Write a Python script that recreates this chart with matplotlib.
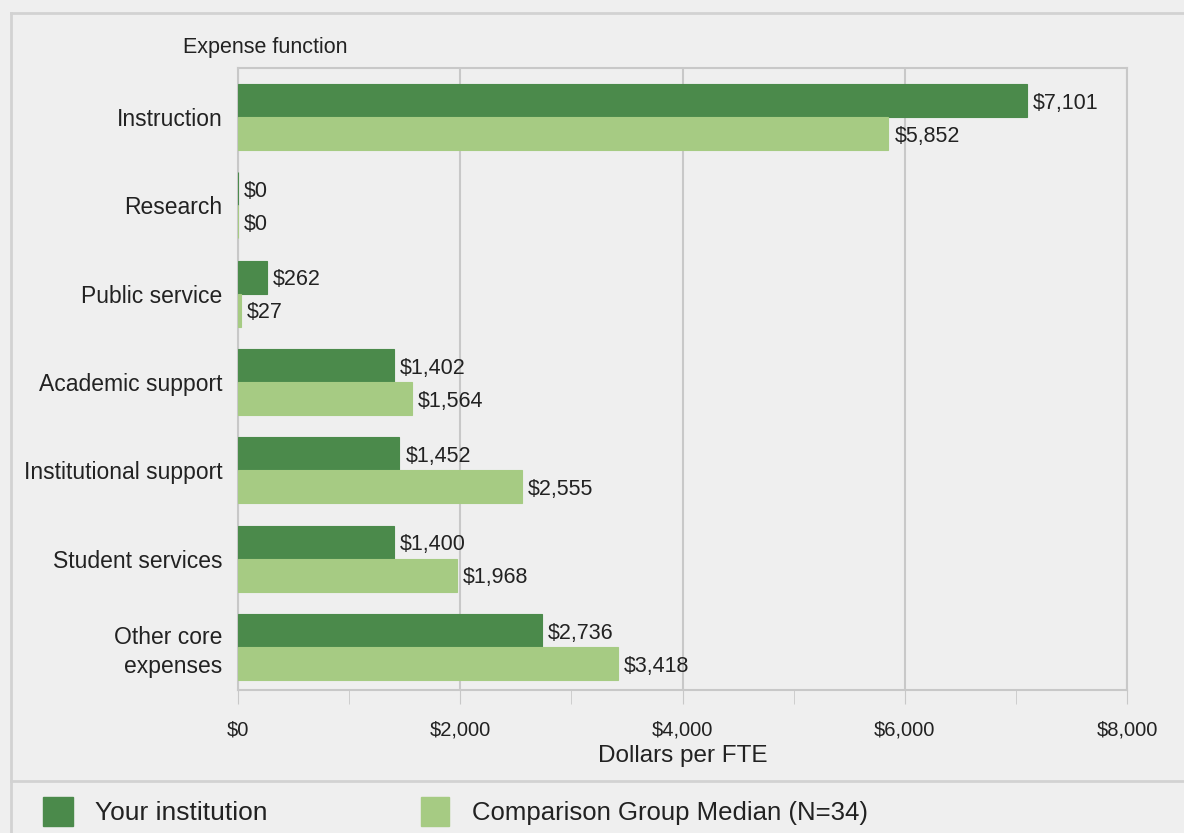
import matplotlib.pyplot as plt
import numpy as np
from matplotlib.patches import Rectangle
from matplotlib.lines import Line2D

plt.rcParams['font.family'] = ['Liberation Sans', 'DejaVu Sans']

# data
categories = ['Instruction', 'Research', 'Public service', 'Academic support',
              'Institutional support', 'Student services', 'Other core\nexpenses']
your_inst = [7101, 0, 262, 1402, 1452, 1400, 2736]
group_median = [5852, 0, 27, 1564, 2555, 1968, 3418]
xticks = [0, 2000, 4000, 6000, 8000]
xtick_labels = ['$0', '$2,000', '$4,000', '$6,000', '$8,000']

dark = '#4b8a4b'
light = '#a6cb83'
bg = '#efefef'
grid_c = '#c8c8c8'
txt = '#222222'

fig = plt.figure(figsize=(11.84, 8.33), dpi=100, facecolor=bg)
W, H = 1184, 833

# outer frame lines
fig.add_artist(Line2D([11 / W, 1], [1 - 13 / H, 1 - 13 / H], color='#d2d2d2', lw=2))
fig.add_artist(Line2D([11 / W, 11 / W], [1 - 13 / H, 0], color='#d2d2d2', lw=2))
fig.add_artist(Line2D([11 / W, 1], [1 - 781 / H, 1 - 781 / H], color='#d2d2d2', lw=2))

ax = fig.add_axes([238 / W, 1 - 690 / H, (1127 - 238) / W, (690 - 68) / H])
ax.set_facecolor(bg)

y = np.arange(len(categories))
h = 0.374
b1 = ax.barh(y - h / 2, your_inst, height=h, color=dark, edgecolor=dark, lw=0.8, zorder=3)
b2 = ax.barh(y + h / 2, group_median, height=h, color=light, edgecolor=light, lw=0.8, zorder=3)

for bars, vals in ((b1, your_inst), (b2, group_median)):
    for bar, v in zip(bars, vals):
        ax.text(v + 55, bar.get_y() + bar.get_height() / 2 + 0.03, f'${v:,}',
                ha='left', va='center', fontsize=15.5, color=txt, zorder=4)

ax.set_ylim(6.487, -0.555)
ax.set_xlim(0, 8000)
ax.set_yticks(y)
ax.set_yticklabels(categories, fontsize=16.5, color=txt, ha='right',
                   multialignment='right', linespacing=1.3)
ax.tick_params(axis='y', length=0, pad=11)
ax.set_xticks(xticks)
ax.set_xticklabels(xtick_labels, fontsize=14.5, color=txt)
ax.set_xticks([1000, 3000, 5000, 7000], minor=True)
ax.tick_params(axis='x', which='both', length=10, color=grid_c, pad=12)
ax.grid(True, axis='x', color=grid_c, lw=1.5, zorder=0)
for s in ax.spines.values():
    s.set_color(grid_c)
    s.set_linewidth(1.5)
ax.set_xlabel('Dollars per FTE', fontsize=17.5, color=txt, labelpad=4)

fig.text(183 / W, 1 - 47 / H, 'Expense function', fontsize=15.5, color=txt, va='center', ha='left')

# legend
fig.add_artist(Rectangle((43 / W, 1 - 826 / H), 30 / W, 29 / H, color=dark))
fig.text(95 / W, 1 - 813 / H, 'Your institution', fontsize=19, color=txt, va='center')
fig.add_artist(Rectangle((421 / W, 1 - 826 / H), 28 / W, 29 / H, color=light))
fig.text(472 / W, 1 - 813 / H, 'Comparison Group Median (N=34)', fontsize=18.5, color=txt, va='center')

fig.savefig('out.png', dpi=100, facecolor=bg)
